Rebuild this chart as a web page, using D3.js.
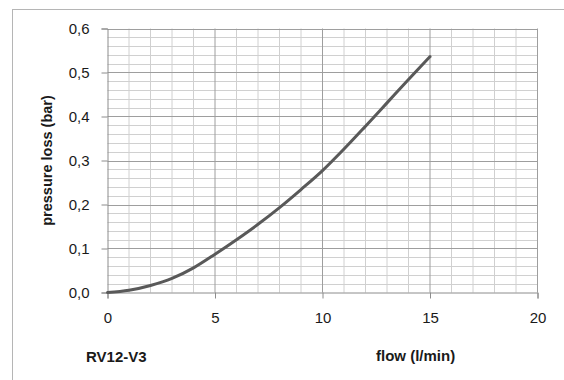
<!DOCTYPE html>
<html>
<head>
<meta charset="utf-8">
<script src="https://cdn.jsdelivr.net/npm/d3@7"></script>
<style>
  body { margin: 0; background: #fff; }
  svg text { font-family: "Liberation Sans", Arial, sans-serif; fill: #1a1a1a; }
</style>
</head>
<body>
<div id="chart"></div>
<script>
// Data
const flow = [0, 1, 2, 3, 4, 5, 6, 7, 8, 9, 10, 11, 12, 13, 14, 15];
const pressure = [0, 0.005, 0.016, 0.032, 0.056, 0.087, 0.12, 0.155, 0.193, 0.234, 0.277, 0.326, 0.378, 0.431, 0.484, 0.536];
const xTicks = [0, 5, 10, 15, 20];
const yTicks = [0, 0.1, 0.2, 0.3, 0.4, 0.5, 0.6];

const width = 564, height = 380;

const svg = d3.select("#chart").append("svg")
    .attr("width", width)
    .attr("height", height);

// outer chart frame
svg.append("rect")
    .attr("x", 12.5).attr("y", 9.5)
    .attr("width", 600).attr("height", 400)
    .attr("fill", "#fff")
    .attr("stroke", "#b5b5b5");

const x = d3.scaleLinear().domain([0, 20]).range([107.5, 537.5]);
const y = d3.scaleLinear().domain([0, 0.6]).range([292.5, 28.5]);

// minor grid
const grid = svg.append("g");
grid.selectAll("line.vminor")
    .data(d3.range(1, 20).filter(v => v % 5 !== 0))
    .enter().append("line")
    .attr("x1", d => x(d)).attr("x2", d => x(d))
    .attr("y1", y(0)).attr("y2", y(0.6))
    .attr("stroke", "#d0d0d0");
grid.selectAll("line.hminor")
    .data(d3.range(1, 30).filter(v => v % 5 !== 0).map(v => v * 0.02))
    .enter().append("line")
    .attr("x1", x(0)).attr("x2", x(20))
    .attr("y1", d => Math.round(y(d)) + 0.5).attr("y2", d => Math.round(y(d)) + 0.5)
    .attr("stroke", "#d0d0d0");

// major grid
grid.selectAll("line.vmajor")
    .data(xTicks.slice(1))
    .enter().append("line")
    .attr("x1", d => x(d)).attr("x2", d => x(d))
    .attr("y1", y(0)).attr("y2", y(0.6))
    .attr("stroke", "#9e9e9e");
grid.selectAll("line.hmajor")
    .data(yTicks.slice(1))
    .enter().append("line")
    .attr("x1", x(0)).attr("x2", x(20))
    .attr("y1", d => Math.round(y(d)) + 0.5).attr("y2", d => Math.round(y(d)) + 0.5)
    .attr("stroke", "#9e9e9e");

// axes
const fmt = d => d3.format(".1f")(d).replace(".", ",");

const yAxis = svg.append("g")
    .attr("transform", `translate(${x(0)},0)`)
    .call(d3.axisLeft(y).tickValues(yTicks).tickFormat(fmt).tickSize(6).tickPadding(12));
yAxis.select(".domain").attr("stroke", "#8c8c8c");
yAxis.selectAll(".tick line").attr("stroke", "#8c8c8c");
yAxis.selectAll("text").attr("font-size", 15).attr("fill", "#1a1a1a");

const xAxis = svg.append("g")
    .attr("transform", `translate(0,${y(0)})`)
    .call(d3.axisBottom(x).tickValues(xTicks).tickSize(6).tickPadding(14));
xAxis.select(".domain").attr("stroke", "#8c8c8c");
xAxis.selectAll(".tick line").attr("stroke", "#8c8c8c");
xAxis.selectAll("text").attr("font-size", 15).attr("fill", "#1a1a1a");

// curve
const line = d3.line()
    .x((d, i) => x(flow[i]))
    .y(d => y(d))
    .curve(d3.curveMonotoneX);

svg.append("path")
    .datum(pressure)
    .attr("d", line)
    .attr("fill", "none")
    .attr("stroke", "#595959")
    .attr("stroke-width", 3)
    .attr("stroke-linecap", "round");

// labels
svg.append("text")
    .attr("transform", `translate(52,${(y(0) + y(0.6)) / 2}) rotate(-90)`)
    .attr("text-anchor", "middle")
    .attr("font-size", 14.5)
    .attr("font-weight", "bold")
    .text("pressure loss (bar)");

svg.append("text")
    .attr("x", 86).attr("y", 362)
    .attr("font-size", 15)
    .attr("font-weight", "bold")
    .text("RV12-V3");

svg.append("text")
    .attr("x", 376).attr("y", 361)
    .attr("font-size", 15)
    .attr("font-weight", "bold")
    .text("flow (l/min)");
</script>
</body>
</html>
